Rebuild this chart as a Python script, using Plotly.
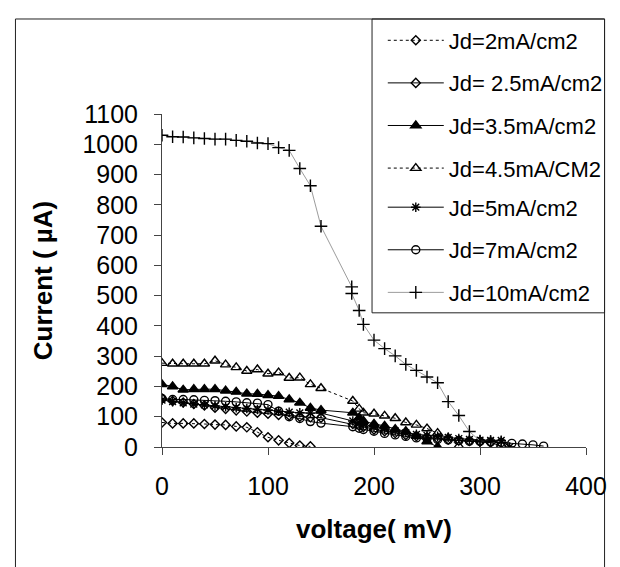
import plotly.graph_objects as go

# ---- data ----
x_2 = [0, 10, 20, 30, 40, 50, 60, 70, 80, 90, 100, 110, 120, 130, 140]
y_2 = [81, 78, 78, 78, 76, 74, 73, 68, 65, 49, 32, 22, 13, 5, 2]

x_25 = [0, 10, 20, 30, 40, 50, 60, 70, 80, 90, 100, 110, 120, 130, 140, 150,
        180, 186, 190, 200, 210, 220, 230, 240, 250, 260, 270, 280, 290, 300, 310, 320]
y_25 = [160, 152, 147, 142, 137, 130, 126, 121, 117, 113, 110, 106, 104, 100, 98, 97,
        76, 70, 66, 58, 52, 46, 40, 36, 32, 28, 25, 22, 20, 18, 15, 3]

x_35 = [0, 10, 20, 30, 40, 50, 60, 70, 80, 90, 100, 110, 120, 130, 140, 150,
        180, 186, 190, 200, 210, 220, 230, 240, 250, 260]
y_35 = [207, 200, 189, 191, 191, 191, 186, 182, 176, 175, 171, 168, 157, 146, 129, 122,
        113, 97, 86, 76, 70, 59, 52, 36, 18, 0]

x_45 = [0, 10, 20, 30, 40, 50, 60, 70, 80, 90, 100, 110, 120, 130, 140, 150,
        180, 186, 190, 200, 210, 220, 230, 240, 250, 260, 270, 280]
y_45 = [277, 275, 275, 275, 275, 285, 272, 263, 251, 256, 242, 246, 228, 229, 207, 194,
        152, 126, 113, 110, 103, 95, 81, 73, 61, 46, 30, 3]

x_5 = [0, 10, 20, 30, 40, 50, 60, 70, 80, 90, 100, 110, 120, 130, 140, 150,
       180, 186, 190, 200, 210, 220, 230, 240, 250, 260, 270, 280, 290, 300, 310, 320, 328]
y_5 = [155, 150, 146, 142, 139, 136, 133, 130, 127, 124, 122, 118, 115, 113, 112, 112,
       86, 80, 75, 66, 60, 53, 47, 42, 38, 35, 32, 28, 25, 23, 22, 22, 0]

x_7 = [0, 10, 20, 30, 40, 50, 60, 70, 80, 90, 100, 110, 120, 130, 140, 150,
       180, 186, 190, 200, 210, 220, 230, 240, 250, 260, 270, 280, 290, 300, 310, 320,
       330, 340, 350, 360]
y_7 = [160, 157, 157, 156, 154, 153, 151, 149, 146, 145, 140, 118, 100, 94, 84, 79,
       67, 62, 58, 52, 45, 40, 35, 30, 28, 25, 23, 21, 19, 18, 17, 15,
       12, 10, 7, 3]

x_10 = [0, 10, 20, 30, 40, 50, 60, 70, 80, 90, 100, 110, 120, 130, 140, 150,
        179, 179, 186, 190, 200, 210, 220, 230, 240, 250, 260, 270, 280, 290, 300, 310, 320]
y_10 = [1030, 1025, 1024, 1021, 1019, 1017, 1017, 1013, 1010, 1004, 1002, 989, 980, 920, 863, 729,
        529, 507, 451, 405, 353, 325, 301, 273, 253, 231, 212, 150, 104, 51, 20, 18, 15]

names = ["Jd=2mA/cm2", "Jd= 2.5mA/cm2", "Jd=3.5mA/cm2", "Jd=4.5mA/CM2",
         "Jd=5mA/cm2", "Jd=7mA/cm2", "Jd=10mA/cm2"]

x_ticks = [0, 100, 200, 300, 400]
y_ticks = list(range(0, 1101, 100))

FONT = "Liberation Sans, Arial, sans-serif"

series = [
    (x_2, y_2, "diamond-open", 7, "black", "dot"),
    (x_25, y_25, "diamond-open", 7, "black", "solid"),
    (x_35, y_35, "triangle-up", 9, "black", "solid"),
    (x_45, y_45, "triangle-up-open", 9, "black", "dot"),
    (x_5, y_5, "asterisk-open", 8, "black", "solid"),
    (x_7, y_7, "circle-open", 8, "black", "solid"),
    (x_10, y_10, "cross-thin-open", 9, "#9c9c9c", "solid"),
]

fig = go.Figure()
for i, (xs, ys, sym, sz, lc, dash) in enumerate(series):
    fig.add_trace(go.Scatter(
        x=xs, y=ys, mode="lines+markers", name=names[i], legendgroup=f"g{i}",
        legend="legend" if i < 4 else "legend2",
        line=dict(color=lc, width=1, dash=dash),
        marker=dict(symbol=sym, size=sz, color="black",
                    line=dict(color="black", width=1.4)),
    ))

# page is offset by the 8px body margin: work in window pixels, convert
OFF = 8
W, H = 620 - OFF, 567 - OFF
L, R, T, B = 162 - OFF, 596 - OFF, 107 - OFF, 447 - OFF

def px(xw):
    return (xw - OFF - L) / (R - L)

def py(yw):
    return (B - (yw - OFF)) / (B - T)

STEP = 42.6          # vertical spacing of legend entries (window px)
LEG_TOP = 10.5       # top of first legend block (window px)

leg_common = dict(
    xanchor="left", yanchor="top",
    bgcolor="rgba(0,0,0,0)", borderwidth=0,
    font=dict(size=22, family=FONT, color="black"),
    tracegroupgap=11, itemwidth=56,
)

fig.update_layout(
    width=W, height=H,
    margin=dict(l=L, r=W - R, t=T, b=H - B, pad=0),
    paper_bgcolor="white", plot_bgcolor="white",
    font=dict(family=FONT, color="black"),
    showlegend=True,
    legend=dict(x=px(388), y=py(LEG_TOP), **leg_common),
    legend2=dict(x=px(388), y=py(LEG_TOP + 4 * STEP), **leg_common),
    xaxis=dict(
        range=[0, 400], tickmode="array", tickvals=x_ticks,
        showgrid=False, zeroline=False, showline=True, linecolor="#444", linewidth=1,
        ticks="outside", ticklen=7, tickcolor="#444",
        tickfont=dict(size=25, family=FONT), ticklabelstandoff=10,
        title=dict(text="<b>voltage( mV)</b>", font=dict(size=26, family=FONT), standoff=20),
        automargin=False,
    ),
    yaxis=dict(
        range=[0, 1100], tickmode="array", tickvals=y_ticks,
        showgrid=False, zeroline=False, showline=True, linecolor="#444", linewidth=1,
        ticks="outside", ticklen=7, tickcolor="#444",
        tickfont=dict(size=25, family=FONT), ticklabelstandoff=11,
        title=dict(text="<b>Current ( µA)</b>", font=dict(size=26, family=FONT), standoff=22),
        automargin=False,
    ),
    shapes=[
        # outer chart frame
        dict(type="rect", xref="paper", yref="paper",
             x0=px(12), x1=px(615), y0=py(640), y1=py(10),
             line=dict(color="#222", width=1), fillcolor="rgba(0,0,0,0)", layer="below"),
        # legend box
        dict(type="rect", xref="paper", yref="paper",
             x0=px(377), x1=px(615), y0=py(310), y1=py(10),
             line=dict(color="#222", width=1), fillcolor="rgba(0,0,0,0)", layer="above"),
    ],
)

fig.write_html("out.html")
